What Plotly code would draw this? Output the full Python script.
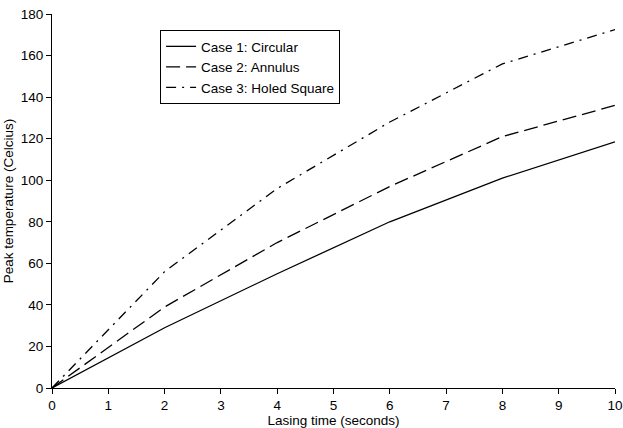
import plotly.graph_objects as go

time_s = [0, 2, 4, 6, 8, 10]
case1_circular = [0, 29, 55, 80, 101, 118.5]
case2_annulus = [0, 39, 70, 97, 121, 136]
case3_holed_square = [0, 56, 96, 128, 156, 172.5]

names = ["Case 1: Circular", "Case 2: Annulus", "Case 3: Holed Square"]
dashes = ["solid", "14px,6px", "10px,6px,2px,6px"]

fig = go.Figure()
for name, vals, d in zip(names, [case1_circular, case2_annulus, case3_holed_square], dashes):
    fig.add_trace(go.Scatter(x=time_s, y=vals, mode="lines", name=name,
                             line=dict(color="black", width=1.3, dash=d)))

fig.update_layout(
    width=623, height=428,
    margin=dict(l=52, r=8, t=14, b=40),
    paper_bgcolor="white", plot_bgcolor="white",
    font=dict(family="Liberation Sans, Arial, sans-serif", size=13, color="black"),
    showlegend=True,
    legend=dict(x=0.192, y=0.957, xanchor="left", yanchor="top",
                bgcolor="white", bordercolor="black", borderwidth=1,
                font=dict(size=13.5), tracegroupgap=0, itemwidth=30),
)
fig.update_xaxes(range=[0, 10], tickmode="array", tickvals=list(range(0, 11)),
                 showgrid=False, zeroline=False, showline=True, linecolor="black",
                 linewidth=1, ticks="outside", ticklen=5, tickcolor="black",
                 automargin=False, tickfont=dict(size=13.5),
                 title=dict(text="Lasing time (seconds)", font=dict(size=13.5), standoff=2))
fig.update_yaxes(range=[0, 180], tickmode="array", tickvals=list(range(0, 181, 20)),
                 showgrid=False, zeroline=False, showline=True, linecolor="black",
                 linewidth=1, ticks="outside", ticklen=5, tickcolor="black",
                 automargin=False, tickfont=dict(size=13.5),
                 title=dict(text="Peak temperature (Celcius)", font=dict(size=13.5), standoff=4))

fig.write_html("out.html")
